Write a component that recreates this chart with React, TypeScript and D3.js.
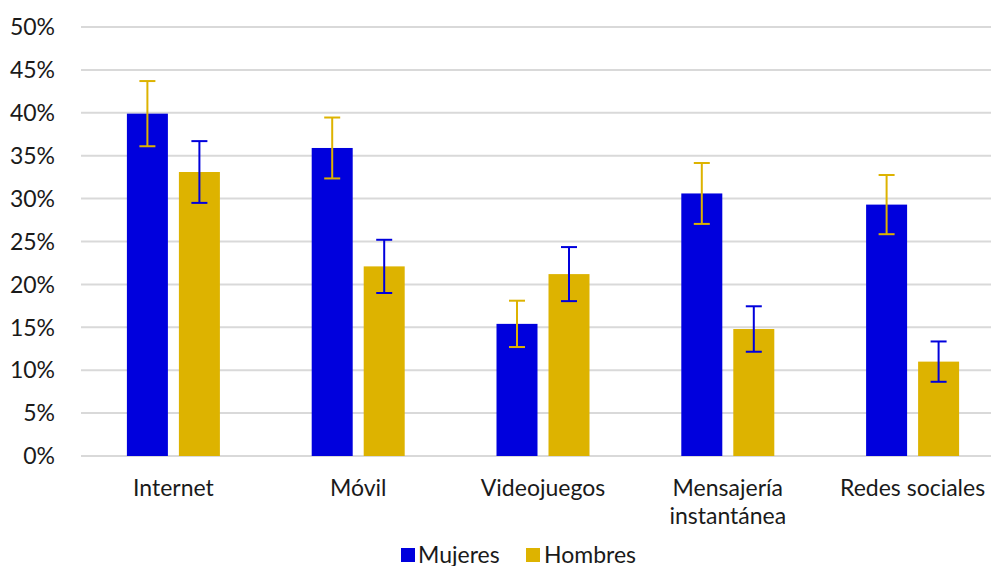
import { useEffect } from 'react';
import * as d3 from 'd3';

const categories = ['Internet', 'Móvil', 'Videojuegos', 'Mensajería\ninstantánea', 'Redes sociales'];
const mujeres = [39.9, 35.9, 15.4, 30.6, 29.3];
const mujeresErr = [3.8, 3.55, 2.7, 3.55, 3.45];
const hombres = [33.1, 22.1, 21.2, 14.8, 11.0];
const hombresErr = [3.6, 3.1, 3.15, 2.65, 2.35];
const yTicks = [0, 5, 10, 15, 20, 25, 30, 35, 40, 45, 50];

const BLUE = '#0000DD';
const GOLD = '#DDB300';
const FONT = 'Lato, "Open Sans", sans-serif';
const FS = 23;

const W = 991;
const H = 566;
// plot area runs a little past the right edge of the picture, as in the original
const margin = { top: 27, right: -14, bottom: 110, left: 81 };

const App = () => {
  useEffect(() => {
    document.body.style.margin = '0';
  }, []);

  const x = d3.scaleBand<string>()
    .domain(categories)
    .range([margin.left, W - margin.right]);

  const y = d3.scaleLinear()
    .domain([0, 50])
    .range([H - margin.bottom, margin.top]);

  const barW = 41;
  const gap = 11;
  const cap = 8;

  const series = [
    { name: 'Mujeres', values: mujeres, errs: mujeresErr, fill: BLUE, errColor: GOLD, offset: -gap / 2 - barW },
    { name: 'Hombres', values: hombres, errs: hombresErr, fill: GOLD, errColor: BLUE, offset: gap / 2 },
  ];

  return (
    <svg width={W} height={H} style={{ display: 'block' }} fontFamily={FONT}>
      <rect width={W} height={H} fill="#fff" />
      {yTicks.map((t) => (
        <g key={t}>
          <line x1={margin.left} x2={W} y1={y(t)} y2={y(t)} stroke="#D9D9D9" strokeWidth={2} />
          <text x={55} y={y(t)} dy="0.36em" textAnchor="end" fontSize={FS} fill="#1a1a1a">{t}%</text>
        </g>
      ))}
      {series.map((s) => (
        <g key={s.name}>
          {categories.map((c, i) => {
            const cx = (x(c) ?? 0) + x.bandwidth() / 2 + s.offset;
            const v = s.values[i];
            const e = s.errs[i];
            const mx = cx + barW / 2;
            return (
              <g key={c}>
                <rect x={cx} y={y(v)} width={barW} height={y(0) - y(v)} fill={s.fill} />
                <line x1={mx} x2={mx} y1={y(v + e)} y2={y(v - e)} stroke={s.errColor} strokeWidth={2} />
                <line x1={mx - cap} x2={mx + cap} y1={y(v + e)} y2={y(v + e)} stroke={s.errColor} strokeWidth={2} />
                <line x1={mx - cap} x2={mx + cap} y1={y(v - e)} y2={y(v - e)} stroke={s.errColor} strokeWidth={2} />
              </g>
            );
          })}
        </g>
      ))}
      {categories.map((c) => {
        const lines = c.split('\n');
        const cx = (x(c) ?? 0) + x.bandwidth() / 2;
        return (
          <text key={c} x={cx} y={496} textAnchor="middle" fontSize={FS} fill="#1a1a1a">
            {lines.map((l, j) => (
              <tspan key={l} x={cx} dy={j === 0 ? 0 : 28}>{l}</tspan>
            ))}
          </text>
        );
      })}
      <g>
        <rect x={401} y={548} width={14} height={14} fill={BLUE} />
        <text x={418} y={563} fontSize={FS} fill="#1a1a1a">Mujeres</text>
        <rect x={526} y={548} width={14} height={14} fill={GOLD} />
        <text x={544} y={563} fontSize={FS} fill="#1a1a1a">Hombres</text>
      </g>
    </svg>
  );
};

export default App;
